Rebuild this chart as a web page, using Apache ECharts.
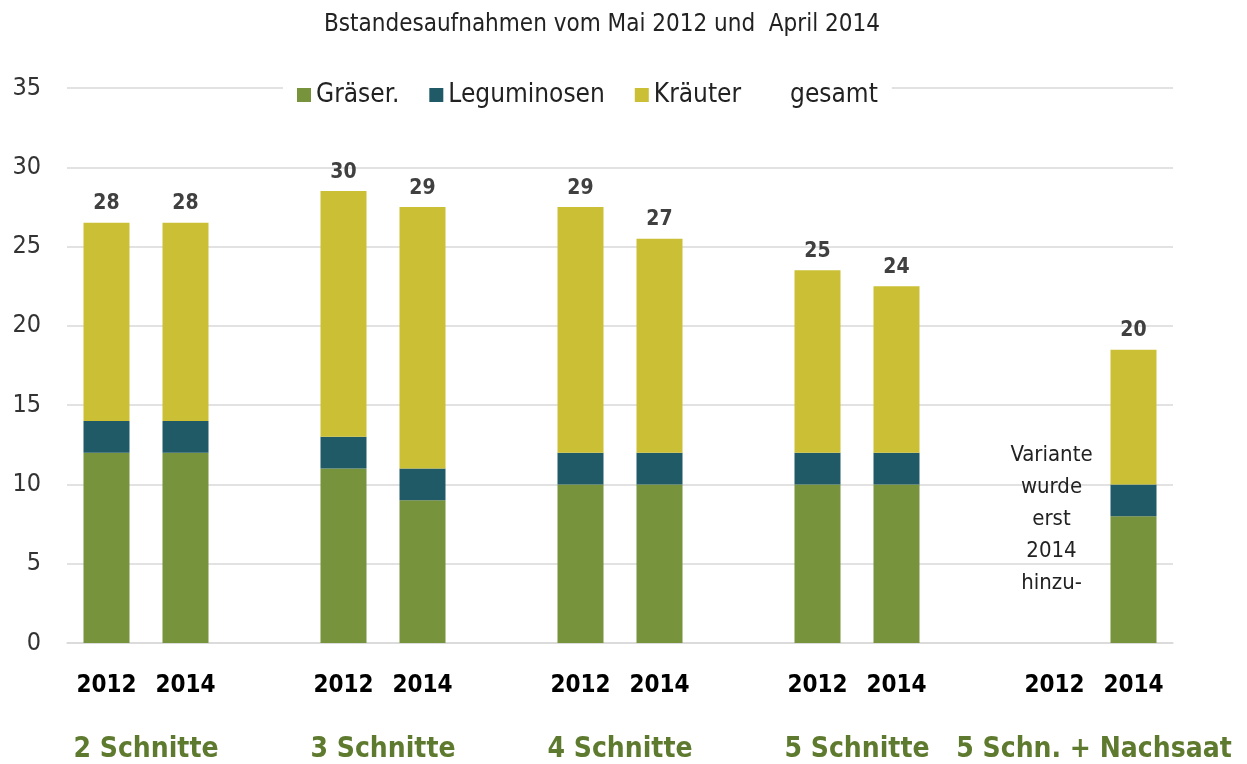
<!DOCTYPE html>
<html>
<head>
<meta charset="utf-8">
<script src="https://cdn.jsdelivr.net/npm/echarts@6/dist/echarts.min.js"></script>
<style>
	html, body { margin: 0; padding: 0; background: #fff; }
	#main { width: 1247px; height: 764px; }
</style>
</head>
<body>
<div id="main"></div>
<script>
	// Kategorien: je Variante 2012 / 2014, dazwischen eine Lücke
	const years = ['2012', '2014', '', '2012', '2014', '', '2012', '2014', '', '2012', '2014', '', '2012', '2014']
	const groups = ['2 Schnitte', '3 Schnitte', '4 Schnitte', '5 Schnitte', '5 Schn. + Nachsaat']
	const graeser = [12, 12, null, 11, 9, null, 10, 10, null, 10, 10, null, null, 8]
	const leguminosen = [2, 2, null, 2, 2, null, 2, 2, null, 2, 2, null, null, 2]
	const kraeuter = [12.5, 12.5, null, 15.5, 16.5, null, 15.5, 13.5, null, 11.5, 10.5, null, null, 8.5]
	const gesamt = [28, 28, null, 30, 29, null, 29, 27, null, 25, 24, null, null, 20]
	const yTicks = [0, 35, 5]

	const font = "'Liberation Sans Narrow', 'DejaVu Sans Condensed', 'Open Sans', sans-serif"
	const colors = { gr: '#77933c', leg: '#215a67', kr: '#cbc035', group: '#5e7a2e' }

	const chart = echarts.init(document.getElementById('main'))
	const cats = years.map((y, i) => 'c' + i)

	const bar = (name, data, color) => ({
		name: name,
		type: 'bar',
		stack: 'a',
		barWidth: 46,
		data: data,
		itemStyle: { color: color },
		emphasis: { disabled: true }
	})

	chart.setOption({
		animation: false,
		textStyle: { fontFamily: font },
		title: {
			text: 'Bstandesaufnahmen vom Mai 2012 und  April 2014',
			left: 597,
			textAlign: 'center',
			top: 8,
			textStyle: { fontFamily: font, fontSize: 24, fontWeight: 'normal', color: '#222' }
		},
		legend: {
			top: 80,
			left: 283,
			itemWidth: 14,
			itemHeight: 14,
			itemGap: 30,
			padding: [2, 14],
			backgroundColor: '#fff',
			textStyle: { fontFamily: font, fontSize: 26, color: '#222' },
			data: [
				{ name: 'Gräser.', icon: 'rect' },
				{ name: 'Leguminosen', icon: 'rect' },
				{ name: 'Kräuter', icon: 'rect' },
				{ name: 'gesamt', icon: 'rect', itemStyle: { opacity: 0 } }
			]
		},
		grid: { left: 67, right: 74, top: 88, bottom: 121, containLabel: false },
		xAxis: {
			type: 'category',
			data: cats,
			axisLine: { lineStyle: { color: '#d9d9d9', width: 1.5 } },
			axisTick: { show: false },
			axisLabel: {
				interval: 0,
				margin: 31,
				fontSize: 24,
				fontWeight: 'bold',
				color: '#000',
				formatter: (v, i) => years[i]
			}
		},
		yAxis: {
			type: 'value',
			min: yTicks[0],
			max: yTicks[1],
			interval: yTicks[2],
			axisLine: { show: false },
			axisTick: { show: false },
			splitLine: { lineStyle: { color: '#d9d9d9', width: 1.5 } },
			axisLabel: { fontSize: 25, color: '#333', margin: 26 }
		},
		series: [
			bar('Gräser.', graeser, colors.gr),
			bar('Leguminosen', leguminosen, colors.leg),
			bar('Kräuter', kraeuter, colors.kr),
			{
				name: 'gesamt',
				type: 'line',
				data: gesamt,
				symbol: 'circle',
				symbolSize: 2,
				showSymbol: true,
				itemStyle: { color: 'rgba(255,255,255,0)' },
				lineStyle: { width: 0, opacity: 0 },
				label: {
					show: true,
					position: 'inside',
					offset: [0, 5],
					fontSize: 21,
					fontWeight: 'bold',
					color: '#404040',
					fontFamily: font
				},
				emphasis: { disabled: true }
			}
		]
	})

	// Gruppenbeschriftungen und Hinweis über die Achsenskala positionieren
	const px = (i, v) => chart.convertToPixel({ xAxisIndex: 0, yAxisIndex: 0 }, [i, v])
	const graphics = groups.map((g, k) => {
		const a = px(k * 3, 0), b = px(k * 3 + 1, 0)
		return {
			type: 'text',
			x: (a[0] + b[0]) / 2,
			y: 750,
			style: {
				text: g,
				fontFamily: font,
				fontSize: 28,
				fontWeight: 'bold',
				fill: colors.group,
				align: 'center',
				verticalAlign: 'middle'
			}
		}
	})
	const note = px(12, 7.8)
	graphics.push({
		type: 'text',
		x: note[0] - 3,
		y: note[1],
		style: {
			text: 'Variante\nwurde\nerst\n2014\nhinzu-',
			fontFamily: font,
			fontSize: 22,
			lineHeight: 32,
			fill: '#222',
			align: 'center',
			verticalAlign: 'middle'
		}
	})
	chart.setOption({ graphic: graphics })
</script>
</body>
</html>
